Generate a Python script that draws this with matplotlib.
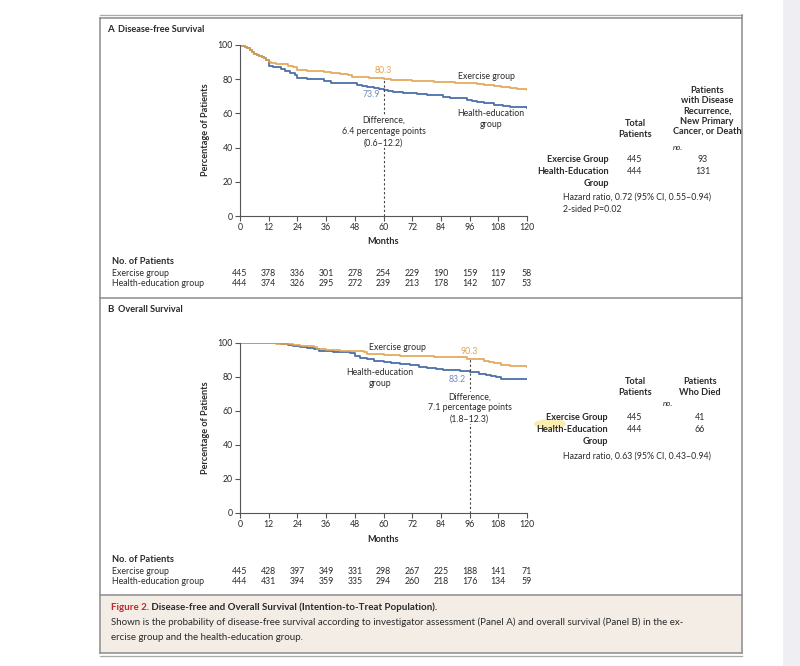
import matplotlib
matplotlib.use("Agg")
import matplotlib.pyplot as plt
from matplotlib import transforms
from matplotlib.patches import Rectangle, Ellipse

plt.rcParams['font.family'] = ['Lato', 'DejaVu Sans']

# %%
# data (Kaplan-Meier steps, months / percent)
months = [0, 12, 24, 36, 48, 60, 72, 84, 96, 108, 120]

dfs_ex_t = [0, 1, 2, 3, 4, 5, 6, 7, 8, 9, 10, 11, 12, 13, 15, 18, 20, 22, 24, 28, 33, 35, 38, 42, 45, 47,
            50, 54, 58, 60, 63, 67, 72, 77, 81, 86, 90, 95, 99, 102, 106, 109, 113, 116, 118, 120]
dfs_ex_s = [100, 99.5, 99, 98, 97, 96, 95, 94, 93.8, 93.2, 92.5, 91.5, 90, 89.3, 89, 88.8, 87.8, 87.3, 85.5,
            85, 84.8, 84, 83.5, 83, 82.5, 81.5, 81, 80.7, 80.5, 80.3, 79.8, 79.5, 79.2, 78.8, 78.5, 78.2,
            77.8, 77.5, 77, 76.5, 76, 75.5, 75, 74.5, 74, 73.5]
dfs_he_t = [0, 1, 2, 3, 4, 5, 6, 7, 8, 9, 10, 11, 12, 14, 17, 19, 21, 23, 24, 28, 33, 35, 38, 42, 45, 49,
            51, 53, 56, 58, 60, 62, 64, 68, 74, 78, 81, 85, 88, 95, 97, 99, 102, 106, 110, 113, 116, 120]
dfs_he_s = [100, 99.5, 99, 98, 97, 96, 95, 94, 93.8, 93.2, 92.5, 91, 87.5, 87, 86, 85, 83.5, 82.5, 80.5,
            80.3, 80, 79, 78, 77.8, 77.5, 76.8, 76.3, 75.5, 75, 74.5, 73.9, 73, 72.5, 72, 71.5, 71, 70.5, 69.5,
            69, 68, 67.5, 66.5, 66, 65, 64.5, 64, 63.5, 63]

os_ex_t = [0, 13, 15, 19, 22, 25, 31, 32, 34, 36, 42, 47, 52, 53, 56, 60, 67, 74, 81, 92, 95, 96, 102,
           104, 106, 109, 113, 120]
os_ex_s = [100, 99.8, 99.5, 99.2, 98.8, 98.2, 97.5, 96.7, 96.3, 95.7, 95.5, 95.2, 94.7, 93.7, 93.5, 93.2,
           92.5, 92.2, 91.8, 91.6, 90.8, 90.3, 89.5, 89, 88.3, 87, 86.3, 86]
os_he_t = [0, 14, 17, 20, 22, 25, 28, 31, 33, 36, 39, 44, 46, 48, 50, 53, 56, 60, 63, 67, 71, 75, 78, 82,
           85, 88, 92, 96, 100, 103, 105, 107, 109, 120]
os_he_s = [100, 99.8, 99.3, 98.7, 98, 97.5, 97, 96.5, 95.5, 95.2, 95, 94.7, 94, 92.5, 91, 90.3, 89.5, 89,
           88, 87.5, 87, 86, 85.5, 85, 84.3, 84, 83.6, 83.2, 82, 81.2, 80.5, 80, 79, 78.8]

dfs_risk_ex = [445, 378, 336, 301, 278, 254, 229, 190, 159, 119, 58]
dfs_risk_he = [444, 374, 326, 295, 272, 239, 213, 178, 142, 107, 53]
os_risk_ex = [445, 428, 397, 349, 331, 298, 267, 225, 188, 141, 71]
os_risk_he = [444, 431, 394, 359, 335, 294, 260, 218, 176, 134, 59]

W, H = 800, 666
ORANGE = '#e0a24c'
BLUE = '#4c70a8'
GRAY = '#8c8c8c'
TXT = '#2a2a2a'
FS = 6.3

fig = plt.figure(figsize=(W / 100, H / 100), dpi=100)
bg = fig.add_axes([0, 0, 1, 1])
bg.set_xlim(0, W)
bg.set_ylim(H, 0)
bg.axis('off')

# page edge, frame and caption box
bg.add_patch(Rectangle((783, 0), 17, H, color='#efeff3', lw=0))
bg.add_patch(Rectangle((100, 595), 642, 58, facecolor='#f3ede6', edgecolor='none'))
for y in [15, 656]:
    bg.plot([100, 742], [y, y], color='#a8a8a8', lw=0.9)
for y in [18, 298, 595, 653]:
    bg.plot([100, 742], [y, y], color=GRAY, lw=1.1)
bg.plot([100, 100], [18, 653], color=GRAY, lw=1.1)
bg.plot([742, 742], [15, 653], color=GRAY, lw=1.1)


def px_axes(left, top, right, bottom):
    return fig.add_axes([left / W, 1 - bottom / H, (right - left) / W, (bottom - top) / H])


def km_panel(ax, ex_t, ex_s, he_t, he_s):
    ax.step(he_t, he_s, where='post', color=BLUE, lw=1.3)
    ax.step(ex_t, ex_s, where='post', color=ORANGE, lw=1.3, alpha=0.9)
    ax.set_xlim(0, 120)
    ax.set_ylim(0, 100)
    ax.set_xticks(months)
    ax.set_yticks(range(0, 101, 20))
    for s in ['top', 'right']:
        ax.spines[s].set_visible(False)
    for s in ['left', 'bottom']:
        ax.spines[s].set_color('#555555')
        ax.spines[s].set_linewidth(0.8)
    ax.tick_params(length=3.5, width=0.8, color='#555555', labelsize=FS, labelcolor=TXT, pad=1.5)
    ax.patch.set_alpha(0)


def risk_rows(ax, y0, ex, he):
    tr = transforms.blended_transform_factory(ax.transData, bg.transData)
    bg.text(112, y0, 'No. of Patients', fontsize=FS + 0.4, fontweight='bold', color=TXT, va='center')
    bg.text(112, y0 + 11, 'Exercise group', fontsize=FS, color=TXT, va='center')
    bg.text(112, y0 + 22, 'Health-education group', fontsize=FS, color=TXT, va='center')
    for m, a, b in zip(months, ex, he):
        ax.text(m, y0 + 11, str(a), transform=tr, fontsize=FS, color=TXT, ha='center', va='center')
        ax.text(m, y0 + 22, str(b), transform=tr, fontsize=FS, color=TXT, ha='center', va='center')


white = dict(facecolor='white', edgecolor='none', pad=0.5)

# %%
# Panel A
axA = px_axes(240, 45, 527, 216)
km_panel(axA, dfs_ex_t, dfs_ex_s, dfs_he_t, dfs_he_s)
axA.plot([60, 60], [0, 80.3], color='#444444', lw=0.8, ls=(0, (2, 2)))
axA.text(60, 82.5, '80.3', color=ORANGE, fontsize=FS, ha='center', va='bottom')
axA.text(58.5, 71, '73.9', color='#6f8cbc', fontsize=FS, ha='right', va='center')
axA.text(60, 58.5, 'Difference,\n6.4 percentage points\n(0.6–12.2)', fontsize=FS, color=TXT,
         ha='center', va='top', linespacing=1.3, bbox=white)
axA.text(103, 81.5, 'Exercise group', fontsize=FS, color=TXT, ha='center', va='center')
axA.text(105, 56.5, 'Health-education\ngroup', fontsize=FS, color=TXT, ha='center', va='center', linespacing=1.3)
bg.text(107, 29, 'A', fontsize=7, fontweight='bold', color=TXT, va='center')
bg.text(118, 29, 'Disease-free Survival', fontsize=6.6, fontweight='bold', color=TXT, va='center')
bg.text(206, 130, 'Percentage of Patients', fontsize=6.6, fontweight='bold', color=TXT,
        rotation=90, ha='center', va='center')
bg.text(383, 242, 'Months', fontsize=6.6, fontweight='bold', color=TXT, ha='center', va='center')
risk_rows(axA, 262, dfs_risk_ex, dfs_risk_he)

bg.text(707, 111, 'Patients\nwith Disease\nRecurrence,\nNew Primary\nCancer, or Death', fontsize=FS + 0.3,
        fontweight='bold', color=TXT, ha='center', va='center', linespacing=1.15)
bg.text(635, 129, 'Total\nPatients', fontsize=FS + 0.3, fontweight='bold', color=TXT,
        ha='center', va='center', linespacing=1.15)
bg.text(678, 148, 'no.', fontsize=FS - 0.5, style='italic', color=TXT, ha='center', va='center')
bg.text(609, 160, 'Exercise Group', fontsize=FS + 0.3, fontweight='bold', color=TXT, ha='right', va='center')
bg.text(609, 172, 'Health-Education', fontsize=FS + 0.3, fontweight='bold', color=TXT, ha='right', va='center')
bg.text(609, 184, 'Group', fontsize=FS + 0.3, fontweight='bold', color=TXT, ha='right', va='center')
bg.text(635, 160, '445', fontsize=FS, color=TXT, ha='center', va='center')
bg.text(635, 172, '444', fontsize=FS, color=TXT, ha='center', va='center')
bg.text(703, 160, '93', fontsize=FS, color=TXT, ha='center', va='center')
bg.text(703, 172, '131', fontsize=FS, color=TXT, ha='center', va='center')
bg.text(563, 197, 'Hazard ratio, 0.72 (95% CI, 0.55–0.94)', fontsize=FS, color=TXT, va='center')
bg.text(563, 209, '2-sided P=0.02', fontsize=FS, color=TXT, va='center')

# %%
# Panel B
axB = px_axes(240, 343, 527, 513)
km_panel(axB, os_ex_t, os_ex_s, os_he_t, os_he_s)
axB.plot([96, 96], [0, 90.3], color='#444444', lw=0.8, ls=(0, (2, 2)))
axB.text(96, 92.5, '90.3', color=ORANGE, fontsize=FS, ha='center', va='bottom')
axB.text(94.5, 78.5, '83.2', color='#6f8cbc', fontsize=FS, ha='right', va='center')
axB.text(96, 71, 'Difference,\n7.1 percentage points\n(1.8–12.3)', fontsize=FS, color=TXT,
         ha='center', va='top', linespacing=1.3, bbox=white)
axB.text(66, 97.5, 'Exercise group', fontsize=FS, color=TXT, ha='center', va='center')
axB.text(58.5, 79.5, 'Health-education\ngroup', fontsize=FS, color=TXT, ha='center', va='center', linespacing=1.3)
bg.text(107, 310, 'B', fontsize=7, fontweight='bold', color=TXT, va='center')
bg.text(118, 310, 'Overall Survival', fontsize=6.6, fontweight='bold', color=TXT, va='center')
bg.text(206, 428, 'Percentage of Patients', fontsize=6.6, fontweight='bold', color=TXT,
        rotation=90, ha='center', va='center')
bg.text(383, 540, 'Months', fontsize=6.6, fontweight='bold', color=TXT, ha='center', va='center')
risk_rows(axB, 560, os_risk_ex, os_risk_he)

bg.add_patch(Ellipse((550, 424), 32, 10, color='#f7e27a', alpha=0.6, lw=0))
bg.text(635, 387, 'Total\nPatients', fontsize=FS + 0.3, fontweight='bold', color=TXT,
        ha='center', va='center', linespacing=1.15)
bg.text(700, 387, 'Patients\nWho Died', fontsize=FS + 0.3, fontweight='bold', color=TXT,
        ha='center', va='center', linespacing=1.15)
bg.text(668, 403, 'no.', fontsize=FS - 0.5, style='italic', color=TXT, ha='center', va='center')
bg.text(608, 417, 'Exercise Group', fontsize=FS + 0.3, fontweight='bold', color=TXT, ha='right', va='center')
bg.text(608, 430, 'Health-Education', fontsize=FS + 0.3, fontweight='bold', color=TXT, ha='right', va='center')
bg.text(608, 441, 'Group', fontsize=FS + 0.3, fontweight='bold', color=TXT, ha='right', va='center')
bg.text(635, 417, '445', fontsize=FS, color=TXT, ha='center', va='center')
bg.text(635, 430, '444', fontsize=FS, color=TXT, ha='center', va='center')
bg.text(700, 417, '41', fontsize=FS, color=TXT, ha='center', va='center')
bg.text(700, 430, '66', fontsize=FS, color=TXT, ha='center', va='center')
bg.text(563, 456, 'Hazard ratio, 0.63 (95% CI, 0.43–0.94)', fontsize=FS, color=TXT, va='center')

# %%
# caption
t1 = bg.text(111, 607, 'Figure 2.', fontsize=7, fontweight='bold', color='#c3262d', va='center')
bg.annotate(' Disease-free and Overall Survival (Intention-to-Treat Population).', xy=(1, 0.5),
            xycoords=t1, fontsize=7, fontweight='bold', color=TXT, va='center')
bg.text(111, 622, 'Shown is the probability of disease-free survival according to investigator assessment '
        '(Panel A) and overall survival (Panel B) in the ex-', fontsize=7, color=TXT, va='center')
bg.text(111, 637, 'ercise group and the health-education group.', fontsize=7, color=TXT, va='center')

fig.savefig('out.png', dpi=100)
